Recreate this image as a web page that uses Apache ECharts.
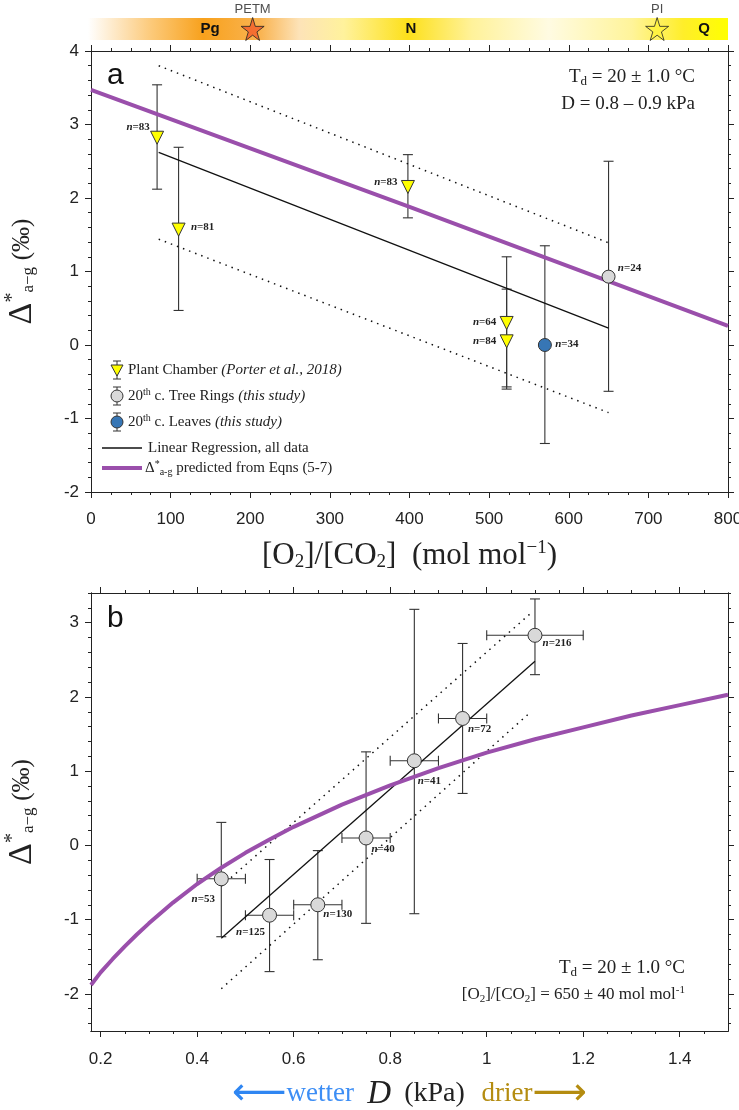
<!DOCTYPE html>
<html>
<head>
<meta charset="utf-8">
<script src="https://cdn.jsdelivr.net/npm/echarts@6/dist/echarts.min.js"></script>
<style>
html, body { margin: 0; padding: 0; background: #fff; }
#chart { width: 739px; height: 1110px; }
</style>
</head>
<body>
<div id="chart"></div>
<script>
// ---------- panel a : [O2]/[CO2] ----------
const chamberX = [83, 110, 398, 522, 522];
const chamberY = [2.82, 1.57, 2.15, 0.30, 0.05];
const chamberLo = [2.12, 0.47, 1.73, -0.57, -0.60];
const chamberHi = [3.54, 2.69, 2.59, 1.20, 0.76];
const chamberN = ["83", "81", "83", "64", "84"];

const ringAX = [650];
const ringAY = [0.93];
const ringALo = [-0.63];
const ringAHi = [2.50];
const ringAN = ["24"];

const leafX = [570];
const leafY = [0.0];
const leafLo = [-1.34];
const leafHi = [1.35];
const leafN = ["34"];

const regAX = [85, 650];
const regAY = [2.62, 0.23];
const regAUpper = [3.80, 1.39];
const regALower = [1.44, -0.92];

const predAX = [0, 400, 800];
const predAY = [3.47, 1.88, 0.26];

// ---------- panel b : D (kPa) ----------
const ringBX = [0.45, 0.55, 0.65, 0.75, 0.85, 0.95, 1.1];
const ringBY = [-0.45, -0.94, -0.80, 0.10, 1.14, 1.71, 2.83];
const ringBLo = [-1.23, -1.70, -1.54, -1.05, -0.92, 0.70, 2.30];
const ringBHi = [0.31, -0.19, -0.07, 1.26, 3.18, 2.72, 3.32];
const ringBXerr = [0.05, 0.05, 0.05, 0.05, 0.05, 0.05, 0.1];
const ringBN = ["53", "125", "130", "40", "41", "72", "216"];

const regBX = [0.45, 1.1];
const regBY = [-1.25, 2.48];
const regBUpX = [0.45, 1.09];
const regBUpY = [-0.55, 3.12];
const regBLoX = [0.45, 1.09];
const regBLoY = [-1.93, 1.79];

const predBX = [0.18, 0.2, 0.225, 0.25, 0.275, 0.3, 0.35, 0.4, 0.45, 0.5, 0.55, 0.6, 0.7, 0.8, 0.9, 1.0, 1.1, 1.2, 1.3, 1.4, 1.5];
const predBY = [-1.88, -1.71, -1.53, -1.36, -1.20, -1.05, -0.77, -0.52, -0.30, -0.10, 0.08, 0.25, 0.55, 0.81, 1.04, 1.25, 1.43, 1.59, 1.75, 1.89, 2.03];

// tick values for panel b
const dTicks = [0.2, 0.4, 0.6, 0.8, 1.0, 1.2, 1.4];
const dMinor = [0.2, 0.25, 0.3, 0.35, 0.4, 0.45, 0.5, 0.55, 0.6, 0.65, 0.7, 0.75, 0.8, 0.85, 0.9, 0.95,
  1.0, 1.05, 1.1, 1.15, 1.2, 1.25, 1.3, 1.35, 1.4, 1.45];
const yTicksB = [-2, -1, 0, 1, 2, 3];
const yMinorB = [-2.4, -2.2, -2, -1.8, -1.6, -1.4, -1.2, -1, -0.8, -0.6, -0.4, -0.2, 0, 0.2, 0.4, 0.6, 0.8,
  1, 1.2, 1.4, 1.6, 1.8, 2, 2.2, 2.4, 2.6, 2.8, 3, 3.2, 3.4];

// ---------- time bar ----------
const starX = [203, 711];
const starName = ["PETM", "PI"];
const starColor = ["#f25e2a", "#fff23a"];

// label offsets for the n= tags (pixels from marker centre)
const chamberOff = [[-19, -11], [24, -2], [-22, -5], [-22, -1], [-22, 0]];
const ringAOff = [[21, -8]];
const leafOff = [[22, -1]];
const ringBOff = [[-18, 20], [-19, 17], [20, 9], [17, 11], [15, 20], [17, 11], [22, 8]];

const serif = "Liberation Serif, 'Times New Roman', serif";
const sans = "Liberation Sans, Arial, sans-serif";
const ink = "#222";
const purple = "#9a4fab";
const starPath = "path://M50,0 L61,35 L98,35 L68,57 L79,91 L50,70 L21,91 L32,57 L2,35 L39,35 Z";

const chart = echarts.init(document.getElementById("chart"));

const nRich = {
  i: { fontFamily: serif, fontStyle: "italic", fontWeight: "bold", fontSize: 11, color: ink },
  b: { fontFamily: serif, fontWeight: "bold", fontSize: 11, color: ink }
};

function errRender(cap) {
  return function (params, api) {
    const x = api.value(0), y = api.value(1);
    const top = api.coord([x, api.value(3)]);
    const bot = api.coord([x, api.value(2)]);
    const st = { stroke: "#333", lineWidth: 1.1 };
    const kids = [
      { type: "line", shape: { x1: top[0], y1: top[1], x2: bot[0], y2: bot[1] }, style: st },
      { type: "line", shape: { x1: top[0] - cap, y1: top[1], x2: top[0] + cap, y2: top[1] }, style: st },
      { type: "line", shape: { x1: bot[0] - cap, y1: bot[1], x2: bot[0] + cap, y2: bot[1] }, style: st }
    ];
    const xe = api.value(4);
    if (xe) {
      const l = api.coord([x - xe, y]);
      const r = api.coord([x + xe, y]);
      kids.push(
        { type: "line", shape: { x1: l[0], y1: l[1], x2: r[0], y2: r[1] }, style: st },
        { type: "line", shape: { x1: l[0], y1: l[1] - cap, x2: l[0], y2: l[1] + cap }, style: st },
        { type: "line", shape: { x1: r[0], y1: r[1] - cap, x2: r[0], y2: r[1] + cap }, style: st }
      );
    }
    return { type: "group", children: kids };
  };
}

function errSeries(xs, ys, lo, hi, xerr, xi, yi) {
  return {
    type: "custom",
    xAxisIndex: xi,
    yAxisIndex: yi,
    z: 2,
    silent: true,
    renderItem: errRender(5),
    encode: { x: 0, y: 1 },
    data: xs.map((x, i) => [x, ys[i], lo[i], hi[i], xerr ? xerr[i] : 0])
  };
}

function pointSeries(xs, ys, ns, offs, xi, yi, symbol, size, color, rotate) {
  return {
    type: "scatter",
    xAxisIndex: xi,
    yAxisIndex: yi,
    z: 6,
    symbol: symbol,
    symbolSize: size,
    symbolRotate: rotate || 0,
    itemStyle: { color: color, borderColor: "#333", borderWidth: 1, opacity: 1 },
    label: {
      show: true,
      position: "inside",
      formatter: p => "{i|n}{b|=" + ns[p.dataIndex] + "}",
      rich: nRich
    },
    data: xs.map((x, i) => ({ value: [x, ys[i]], label: { offset: offs[i] } }))
  };
}

function lineSeries(xs, ys, xi, yi, style, z) {
  return {
    type: "line",
    xAxisIndex: xi,
    yAxisIndex: yi,
    z: z,
    symbol: "none",
    lineStyle: style,
    data: xs.map((x, i) => [x, ys[i]])
  };
}

const solid = { color: "#111", width: 1.3 };
const dotted = { color: "#111", width: 1.5, type: [1.5, 5] };
const thick = { color: purple, width: 4, join: "round" };

const tickLabel = { color: ink, fontFamily: sans, fontSize: 17 };
const lineSt = { show: true, onZero: false, lineStyle: { color: ink, width: 1 } };

const yName = {
  d: { fontFamily: serif, fontSize: 34, color: ink },
  sup: { fontFamily: serif, fontSize: 20, color: ink, padding: [0, 0, 18, 0] },
  sub: { fontFamily: serif, fontSize: 17, color: ink, padding: [14, 0, 0, 0] },
  p: { fontFamily: serif, fontSize: 25, color: ink }
};
const yNameText = "{d|Δ}{sup|*}{sub|a−g}  {p|(‰)}";

const option = {
  animation: false,
  grid: [
    { left: 91, right: 11, top: 51, height: 441, outerBoundsMode: "none", containLabel: false },
    { left: 91, right: 11, top: 593, height: 438, outerBoundsMode: "none", containLabel: false },
    { left: 91, right: 11, top: 18, height: 22, outerBoundsMode: "none", containLabel: false }
  ],
  xAxis: [
    {
      gridIndex: 0, type: "value", position: "bottom", min: 0, max: 800, interval: 100,
      axisLine: lineSt, axisTick: { length: 6, lineStyle: { color: ink } },
      minorTick: { show: true, splitNumber: 4, length: 3, lineStyle: { color: ink } },
      splitLine: { show: false },
      axisLabel: Object.assign({ margin: 19 }, tickLabel),
      name: "[O{s|2}]/[CO{s|2}]  (mol mol{p|−1})",
      nameLocation: "middle", nameGap: 47,
      nameTextStyle: {
        fontFamily: serif, fontSize: 31, color: ink,
        rich: {
          s: { fontFamily: serif, fontSize: 19, color: ink, padding: [13, 0, 0, 0] },
          p: { fontFamily: serif, fontSize: 19, color: ink, padding: [0, 0, 15, 0] }
        }
      }
    },
    {
      gridIndex: 0, type: "value", position: "top", min: 0, max: 800, interval: 100,
      axisLine: lineSt, axisTick: { length: 6, lineStyle: { color: ink } },
      minorTick: { show: true, splitNumber: 4, length: 3, lineStyle: { color: ink } },
      splitLine: { show: false }, axisLabel: { show: false }
    },
    {
      gridIndex: 1, type: "value", position: "bottom", min: 0.18, max: 1.5,
      axisLine: lineSt,
      axisTick: { customValues: dTicks, length: 6, lineStyle: { color: ink } },
      splitLine: { show: false },
      axisLabel: Object.assign({ customValues: dTicks, margin: 20 }, tickLabel),
      name: "{a|⟵}{w|wetter}    {d|D}{k| (kPa)}     {g|drier}{b|⟶}",
      nameLocation: "middle", nameGap: 44,
      nameTextStyle: {
        rich: {
          a: { fontFamily: "DejaVu Sans", fontSize: 38, color: "#2f86f2" },
          w: { fontFamily: serif, fontSize: 27, color: "#3d8ef5" },
          d: { fontFamily: serif, fontStyle: "italic", fontSize: 33, color: ink },
          k: { fontFamily: serif, fontSize: 28, color: ink, padding: [0, 0, 0, 6] },
          g: { fontFamily: serif, fontSize: 27, color: "#b48c10" },
          b: { fontFamily: "DejaVu Sans", fontSize: 38, color: "#b48c10" }
        }
      }
    },
    {
      gridIndex: 1, type: "value", position: "bottom", min: 0.18, max: 1.5,
      axisLine: lineSt,
      axisTick: { customValues: dMinor, length: 3, lineStyle: { color: ink } },
      splitLine: { show: false }, axisLabel: { show: false }
    },
    {
      gridIndex: 1, type: "value", position: "top", min: 0.18, max: 1.5,
      axisLine: lineSt,
      axisTick: { customValues: dTicks, length: 6, lineStyle: { color: ink } },
      splitLine: { show: false }, axisLabel: { show: false }
    },
    {
      gridIndex: 1, type: "value", position: "top", min: 0.18, max: 1.5,
      axisLine: lineSt,
      axisTick: { customValues: dMinor, length: 3, lineStyle: { color: ink } },
      splitLine: { show: false }, axisLabel: { show: false }
    },
    { gridIndex: 2, type: "value", min: 0, max: 800, show: false }
  ],
  yAxis: [
    {
      gridIndex: 0, type: "value", position: "left", min: -2, max: 4, interval: 1,
      axisLine: lineSt, axisTick: { length: 6, lineStyle: { color: ink } },
      minorTick: { show: true, splitNumber: 5, length: 3, lineStyle: { color: ink } },
      splitLine: { show: false },
      axisLabel: Object.assign({ margin: 12 }, tickLabel),
      name: yNameText, nameLocation: "middle", nameRotate: 90, nameGap: 50,
      nameTextStyle: { rich: yName }
    },
    {
      gridIndex: 0, type: "value", position: "right", min: -2, max: 4, interval: 1,
      axisLine: lineSt, axisTick: { length: 6, lineStyle: { color: ink } },
      minorTick: { show: true, splitNumber: 5, length: 3, lineStyle: { color: ink } },
      splitLine: { show: false }, axisLabel: { show: false }
    },
    {
      gridIndex: 1, type: "value", position: "left", min: -2.5, max: 3.4,
      axisLine: lineSt,
      axisTick: { customValues: yTicksB, length: 6, lineStyle: { color: ink } },
      splitLine: { show: false },
      axisLabel: Object.assign({ customValues: yTicksB, margin: 12 }, tickLabel),
      name: yNameText, nameLocation: "middle", nameRotate: 90, nameGap: 50,
      nameTextStyle: { rich: yName }
    },
    {
      gridIndex: 1, type: "value", position: "left", min: -2.5, max: 3.4,
      axisLine: lineSt,
      axisTick: { customValues: yMinorB, length: 3, lineStyle: { color: ink } },
      splitLine: { show: false }, axisLabel: { show: false }
    },
    {
      gridIndex: 1, type: "value", position: "right", min: -2.5, max: 3.4,
      axisLine: lineSt,
      axisTick: { customValues: yTicksB, length: 6, lineStyle: { color: ink } },
      splitLine: { show: false }, axisLabel: { show: false }
    },
    {
      gridIndex: 1, type: "value", position: "right", min: -2.5, max: 3.4,
      axisLine: lineSt,
      axisTick: { customValues: yMinorB, length: 3, lineStyle: { color: ink } },
      splitLine: { show: false }, axisLabel: { show: false }
    },
    { gridIndex: 2, type: "value", min: 0, max: 1, show: false }
  ],
  series: [
    // panel a
    errSeries(chamberX, chamberY, chamberLo, chamberHi, null, 0, 0),
    errSeries(ringAX, ringAY, ringALo, ringAHi, null, 0, 0),
    errSeries(leafX, leafY, leafLo, leafHi, null, 0, 0),
    lineSeries(regAX, regAY, 0, 0, solid, 3),
    lineSeries(regAX, regAUpper, 0, 0, dotted, 3),
    lineSeries(regAX, regALower, 0, 0, dotted, 3),
    lineSeries(predAX, predAY, 0, 0, thick, 4),
    pointSeries(chamberX, chamberY, chamberN, chamberOff, 0, 0, "triangle", 13, "#ffff00", 180),
    pointSeries(ringAX, ringAY, ringAN, ringAOff, 0, 0, "circle", 13, "#d9d9d9"),
    pointSeries(leafX, leafY, leafN, leafOff, 0, 0, "circle", 13, "#3776b5"),
    // panel b
    errSeries(ringBX, ringBY, ringBLo, ringBHi, ringBXerr, 2, 2),
    lineSeries(regBX, regBY, 2, 2, solid, 3),
    lineSeries(regBUpX, regBUpY, 2, 2, dotted, 3),
    lineSeries(regBLoX, regBLoY, 2, 2, dotted, 3),
    lineSeries(predBX, predBY, 2, 2, thick, 4),
    pointSeries(ringBX, ringBY, ringBN, ringBOff, 2, 2, "circle", 14, "#d9d9d9"),
    // time bar stars
    {
      type: "scatter", xAxisIndex: 6, yAxisIndex: 6, z: 8,
      symbol: starPath, symbolSize: 23,
      itemStyle: { borderColor: "#222", borderWidth: 1 },
      label: {
        show: true, position: "top", distance: 1,
        formatter: p => starName[p.dataIndex],
        fontFamily: sans, fontSize: 13, color: ink
      },
      data: starX.map((x, i) => ({ value: [x, 0.5], itemStyle: { color: starColor[i] } }))
    }
  ],
  graphic: [
    {
      type: "rect", z: 1, shape: { x: 88, y: 18, width: 640, height: 22 },
      style: {
        fill: new echarts.graphic.LinearGradient(0, 0, 1, 0, [
          { offset: 0, color: "#ffffff" },
          { offset: 0.1, color: "#fcc978" },
          { offset: 0.18, color: "#f8a11c" },
          { offset: 0.27, color: "#f9b452" },
          { offset: 0.33, color: "#fde3b8" },
          { offset: 0.4, color: "#fff29c" },
          { offset: 0.5, color: "#fde01a" },
          { offset: 0.6, color: "#fff29a" },
          { offset: 0.72, color: "#fffbe2" },
          { offset: 0.85, color: "#fff49a" },
          { offset: 0.93, color: "#ffee2a" },
          { offset: 1, color: "#ffff00" }
        ])
      }
    },
    { type: "text", z: 5, x: 210, y: 29, style: { text: "Pg", font: "bold 15px " + sans, fill: "#111", align: "center", verticalAlign: "middle" } },
    { type: "text", z: 5, x: 411, y: 29, style: { text: "N", font: "bold 15px " + sans, fill: "#111", align: "center", verticalAlign: "middle" } },
    { type: "text", z: 5, x: 704, y: 29, style: { text: "Q", font: "bold 15px " + sans, fill: "#111", align: "center", verticalAlign: "middle" } },
    // panel labels
    { type: "text", x: 107, y: 76, style: { text: "a", font: "30px " + sans, fill: "#111", verticalAlign: "middle" } },
    { type: "text", x: 107, y: 619, style: { text: "b", font: "30px " + sans, fill: "#111", verticalAlign: "middle" } },
    // annotations
    {
      type: "text", x: 695, y: 77,
      style: {
        text: "T{s|d} = 20 ± 1.0 °C", align: "right", verticalAlign: "middle",
        font: "19px " + serif, fill: ink,
        rich: { s: { fontFamily: serif, fontSize: 13, fill: ink, padding: [9, 0, 0, 0] } }
      }
    },
    { type: "text", x: 695, y: 104, style: { text: "D = 0.8 – 0.9 kPa", align: "right", verticalAlign: "middle", font: "19px " + serif, fill: ink } },
    {
      type: "text", x: 685, y: 968,
      style: {
        text: "T{s|d} = 20 ± 1.0 °C", align: "right", verticalAlign: "middle",
        font: "19px " + serif, fill: ink,
        rich: { s: { fontFamily: serif, fontSize: 13, fill: ink, padding: [9, 0, 0, 0] } }
      }
    },
    {
      type: "text", x: 685, y: 995,
      style: {
        text: "[O{s|2}]/[CO{s|2}] = 650 ± 40 mol mol{p|-1}", align: "right", verticalAlign: "middle",
        font: "17px " + serif, fill: ink,
        rich: {
          s: { fontFamily: serif, fontSize: 11, fill: ink, padding: [8, 0, 0, 0] },
          p: { fontFamily: serif, fontSize: 11, fill: ink, padding: [0, 0, 9, 0] }
        }
      }
    },
    // legend, panel a
    {
      type: "group", z: 10,
      children: [
        // plant chamber
        { type: "line", shape: { x1: 117, y1: 361, x2: 117, y2: 379 }, style: { stroke: "#333", lineWidth: 1 } },
        { type: "line", shape: { x1: 113, y1: 361, x2: 121, y2: 361 }, style: { stroke: "#333", lineWidth: 1 } },
        { type: "line", shape: { x1: 113, y1: 379, x2: 121, y2: 379 }, style: { stroke: "#333", lineWidth: 1 } },
        { type: "polygon", shape: { points: [[111, 365], [123, 365], [117, 376]] }, style: { fill: "#ffff00", stroke: "#333", lineWidth: 1 } },
        {
          type: "text", x: 128, y: 370,
          style: {
            text: "Plant Chamber {i|(Porter et al., 2018)}", verticalAlign: "middle",
            font: "15px " + serif, fill: ink,
            rich: { i: { fontFamily: serif, fontStyle: "italic", fontSize: 15, fill: ink } }
          }
        },
        // tree rings
        { type: "line", shape: { x1: 117, y1: 387, x2: 117, y2: 405 }, style: { stroke: "#333", lineWidth: 1 } },
        { type: "line", shape: { x1: 113, y1: 387, x2: 121, y2: 387 }, style: { stroke: "#333", lineWidth: 1 } },
        { type: "line", shape: { x1: 113, y1: 405, x2: 121, y2: 405 }, style: { stroke: "#333", lineWidth: 1 } },
        { type: "circle", shape: { cx: 117, cy: 396, r: 6 }, style: { fill: "#d9d9d9", stroke: "#333", lineWidth: 1 } },
        {
          type: "text", x: 128, y: 396,
          style: {
            text: "20{sup|th} c. Tree Rings {i|(this study)}", verticalAlign: "middle",
            font: "15px " + serif, fill: ink,
            rich: {
              sup: { fontFamily: serif, fontSize: 10, fill: ink, padding: [0, 0, 8, 0] },
              i: { fontFamily: serif, fontStyle: "italic", fontSize: 15, fill: ink }
            }
          }
        },
        // leaves
        { type: "line", shape: { x1: 117, y1: 413, x2: 117, y2: 431 }, style: { stroke: "#333", lineWidth: 1 } },
        { type: "line", shape: { x1: 113, y1: 413, x2: 121, y2: 413 }, style: { stroke: "#333", lineWidth: 1 } },
        { type: "line", shape: { x1: 113, y1: 431, x2: 121, y2: 431 }, style: { stroke: "#333", lineWidth: 1 } },
        { type: "circle", shape: { cx: 117, cy: 422, r: 6 }, style: { fill: "#3776b5", stroke: "#333", lineWidth: 1 } },
        {
          type: "text", x: 128, y: 422,
          style: {
            text: "20{sup|th} c. Leaves {i|(this study)}", verticalAlign: "middle",
            font: "15px " + serif, fill: ink,
            rich: {
              sup: { fontFamily: serif, fontSize: 10, fill: ink, padding: [0, 0, 8, 0] },
              i: { fontFamily: serif, fontStyle: "italic", fontSize: 15, fill: ink }
            }
          }
        },
        // regression
        { type: "line", shape: { x1: 102, y1: 448, x2: 142, y2: 448 }, style: { stroke: "#111", lineWidth: 1.3 } },
        { type: "text", x: 148, y: 448, style: { text: "Linear Regression, all data", verticalAlign: "middle", font: "15px " + serif, fill: ink } },
        { type: "line", shape: { x1: 102, y1: 468, x2: 142, y2: 468 }, style: { stroke: purple, lineWidth: 4 } },
        {
          type: "text", x: 145, y: 468,
          style: {
            text: "Δ{sup|*}{sub|a-g} predicted from Eqns (5-7)", verticalAlign: "middle",
            font: "15px " + serif, fill: ink,
            rich: {
              sup: { fontFamily: serif, fontSize: 10, fill: ink, padding: [0, 0, 8, 0] },
              sub: { fontFamily: serif, fontSize: 10, fill: ink, padding: [8, 0, 0, 0] }
            }
          }
        }
      ]
    }
  ]
};

chart.setOption(option);
</script>
</body>
</html>
